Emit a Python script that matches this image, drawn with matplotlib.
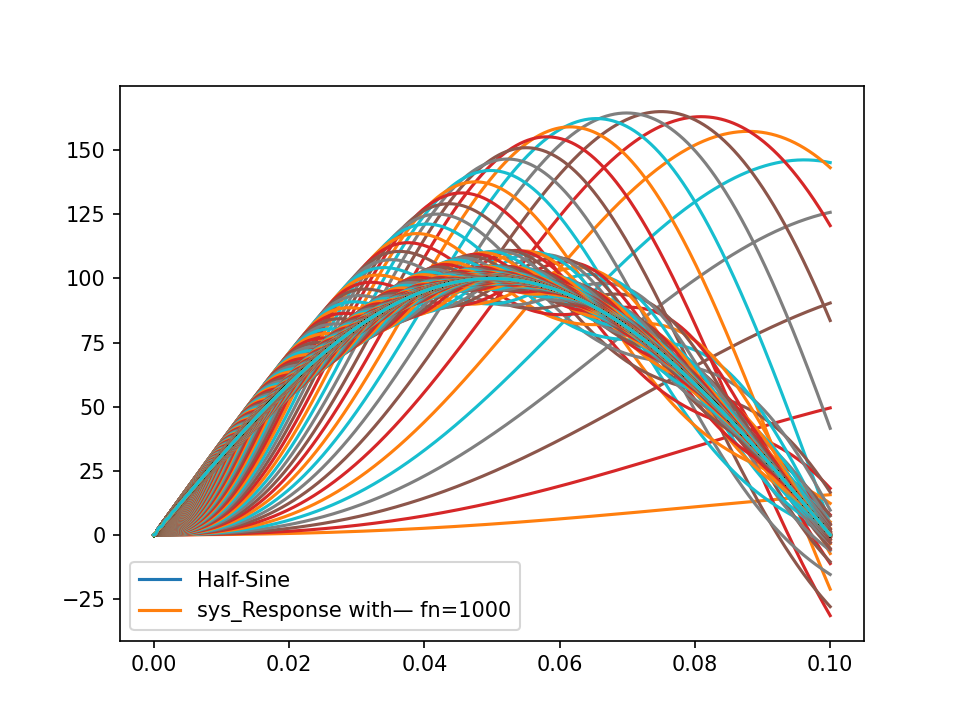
import numpy as np
import matplotlib
matplotlib.use("Agg")
import matplotlib.pyplot as plt

# half-sine shock input
amplitude = 100.0      # peak of the half-sine
duration = 0.1         # pulse length (s)
damping = 0.05         # damping ratio of every SDOF system
nat_freqs = np.arange(1, 1001)   # natural frequencies (Hz) of the systems
legend_labels = ['Half-Sine', 'sys_Response with\u2014 fn=1000']

dt = 1e-5
step = 10
t = np.arange(0, duration + dt / 2, dt)
u = amplitude * np.sin(np.pi * t / duration)


def sdof_responses(freqs):
    # absolute acceleration of damped SDOF systems under base excitation u (RK4),
    # all natural frequencies at once
    wn = 2 * np.pi * np.asarray(freqs, dtype=float)
    c = 2 * damping * wn
    k = wn ** 2
    z = np.zeros_like(wn)
    v = np.zeros_like(wn)
    out = [np.zeros_like(wn)]

    def f(zz, vv, uu):
        return vv, -uu - c * vv - k * zz

    for i in range(len(t) - 1):
        u0 = u[i]
        u1 = u[i + 1]
        um = amplitude * np.sin(np.pi * (t[i] + dt / 2) / duration)
        k1z, k1v = f(z, v, u0)
        k2z, k2v = f(z + 0.5 * dt * k1z, v + 0.5 * dt * k1v, um)
        k3z, k3v = f(z + 0.5 * dt * k2z, v + 0.5 * dt * k2v, um)
        k4z, k4v = f(z + dt * k3z, v + dt * k3v, u1)
        z = z + dt / 6 * (k1z + 2 * k2z + 2 * k3z + k4z)
        v = v + dt / 6 * (k1v + 2 * k2v + 2 * k3v + k4v)
        if (i + 1) % step == 0:
            out.append(-(c * v + k * z))
    return np.array(out)


resp = sdof_responses(nat_freqs)
tp = t[::step]
up = u[::step]

fig = plt.figure(figsize=(6.4, 4.8), dpi=150)
for j, fn in enumerate(nat_freqs):
    plt.plot(tp, up)
    plt.plot(tp, resp[:, j])

plt.legend(legend_labels)
plt.savefig("out.png")
